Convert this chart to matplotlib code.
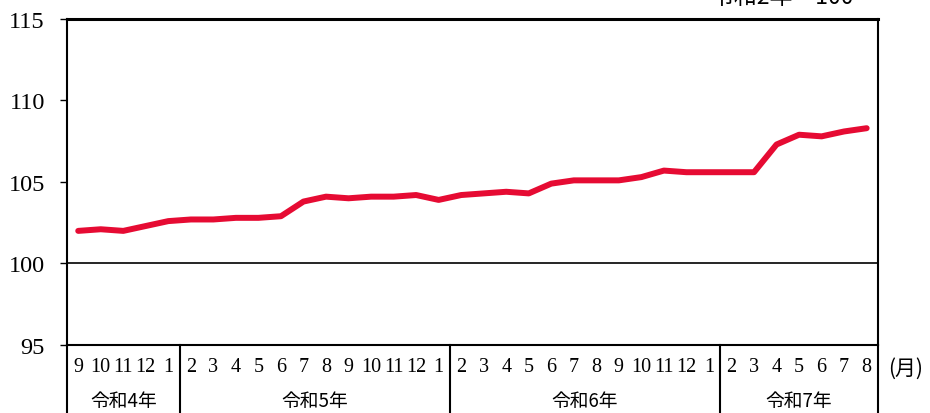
import matplotlib
matplotlib.use("Agg")
import matplotlib.pyplot as plt
import matplotlib.transforms as mtransforms

# 月ラベル (令和4年9月 ～ 令和7年8月)
months = [9, 10, 11, 12, 1,
          2, 3, 4, 5, 6, 7, 8, 9, 10, 11, 12, 1,
          2, 3, 4, 5, 6, 7, 8, 9, 10, 11, 12, 1,
          2, 3, 4, 5, 6, 7, 8]
values = [102.0, 102.1, 102.0, 102.3, 102.6,
          102.7, 102.7, 102.8, 102.8, 102.9, 103.8, 104.1, 104.0, 104.1, 104.1, 104.2, 103.9,
          104.2, 104.3, 104.4, 104.3, 104.9, 105.1, 105.1, 105.1, 105.3, 105.7, 105.6, 105.6,
          105.6, 105.6, 107.3, 107.9, 107.8, 108.1, 108.3]
year_labels = ["令和4年", "令和5年", "令和6年", "令和7年"]
year_counts = [5, 12, 12, 7]
yticks = [95, 100, 105, 110, 115]

jp = ["Noto Sans CJK JP", "DejaVu Sans"]
red = "#e60b33"

fig = plt.figure(figsize=(9.3, 4.14), dpi=100)
ax = fig.add_axes([0.072, 0.1643, 0.872, 0.7874])

x = list(range(len(values)))
ax.plot(x, values, color=red, lw=4.3, solid_capstyle="round", solid_joinstyle="round", zorder=3)
ax.axhline(100, color="black", lw=1.2, zorder=2)

ax.set_xlim(-0.5, len(values) - 0.5)
ax.set_ylim(95, 115)
ax.set_yticks(yticks)
ax.set_yticklabels([str(v) for v in yticks], fontfamily="Liberation Serif", fontsize=17.5)
ax.tick_params(axis="y", direction="out", length=5, width=1, pad=11)
ax.set_xticks([])

for s in ax.spines.values():
    s.set_linewidth(1.5)
ax.spines["top"].set_linewidth(2.2)

trans = mtransforms.blended_transform_factory(ax.transData, ax.transAxes)
low = -68 / 326

# 月の数字
for i, m in enumerate(months):
    ax.text(i, -22 / 326, str(m), transform=trans, ha="center", va="center",
            fontfamily="Liberation Serif", fontsize=14.5)

# 年の区切りと年ラベル
start = 0
bounds = [-0.5]
for lab, n in zip(year_labels, year_counts):
    ax.text(start + (n - 1) / 2, -56 / 326, lab, transform=trans, ha="center", va="center",
            fontfamily=jp, fontsize=13.5)
    start += n
    bounds.append(start - 0.5)
for b in bounds:
    ax.plot([b, b], [0, low], transform=trans, color="black", lw=1.5, clip_on=False)

fig.text(906 / 930, 1 - 369 / 414, "(月)", ha="center", va="center", fontfamily=jp, fontsize=15)
fig.text(782 / 930, 1 - 9 / 414, "令和2年＝100", ha="center", va="bottom", fontfamily=jp, fontsize=16.5)

fig.savefig("out.png", dpi=100)
